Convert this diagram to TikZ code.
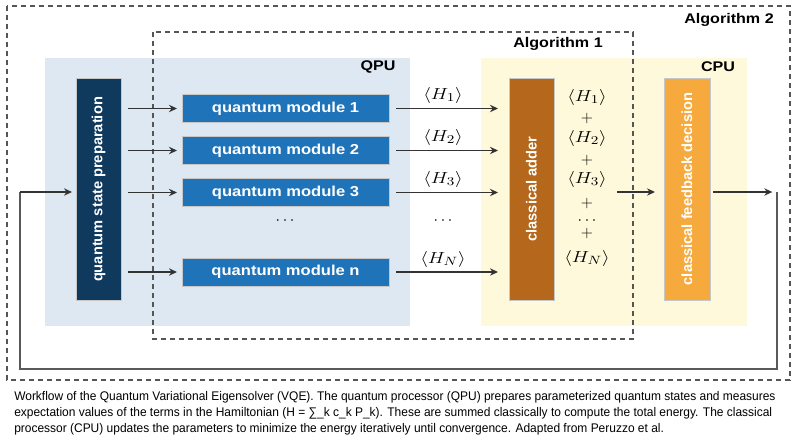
\documentclass[tikz,border=0pt]{standalone}
\usepackage{fontspec}
\usepackage{graphicx}
\usetikzlibrary{arrows.meta}
\newfontfamily\diafont[FakeStretch=1.15]{Liberation Sans}
\newfontfamily\rotfont{Liberation Sans}
\newfontfamily\capfont[FakeStretch=0.955]{Liberation Sans}
\definecolor{prepc}{HTML}{0F3A5E}
\definecolor{modc}{HTML}{1F73B8}
\definecolor{addc}{HTML}{B5671B}
\definecolor{cpuc}{HTML}{F6AA3E}
\definecolor{qpubg}{HTML}{DDE8F3}
\definecolor{cpubg}{HTML}{FDF9DA}
\definecolor{dashc}{HTML}{555555}
\begin{document}
\begin{tikzpicture}[x=0.75pt,y=-0.75pt,
  box/.style={draw=black!22, line width=0.7pt, inner sep=0pt, outer sep=0pt, text=white},
  vbox/.style={box, minimum width=33.75pt, minimum height=166.5pt},
  mod/.style={box, fill=modc, minimum width=155.25pt, minimum height=21pt,
    font=\diafont\bfseries\fontsize{10.8}{12}\selectfont},
  vtext/.style={rotate=90, text=white, inner sep=0pt, font=\rotfont\bfseries\fontsize{11}{12}\selectfont},
  lab/.style={inner sep=0pt, font=\diafont\bfseries\fontsize{10.5}{12}\selectfont},
  hlab/.style={inner sep=0pt, font=\fontsize{13}{15}\selectfont},
  dbox/.style={draw=dashc, line width=1.3pt, dash pattern=on 3.75pt off 3pt},
  arr/.style={draw=black!80, line width=1.45pt, -{Stealth[length=6pt,width=5.5pt]}},
  loopline/.style={draw=black!65, line width=2.1pt},
  captext/.style={inner sep=0pt, align=left, font=\capfont\fontsize{9.4}{11.7}\selectfont}
]
\useasboundingbox (0,0) rectangle (800,439);
% background regions
\fill[qpubg] (45,58) rectangle (410,326);
\fill[cpubg] (481,58) rectangle (747,326);
% dashed algorithm boxes
\draw[dbox] (7,6) rectangle (790,380);
\draw[dbox] (153,32) rectangle (633,339);
% region labels
\node[lab] (qpulab) at (378,67) {QPU};
\node[lab] (cpulab) at (718,67) {CPU};
\node[lab] (alg1) at (558,44) {Algorithm 1};
\node[lab] (alg2) at (729,20) {Algorithm 2};
% main boxes
\node[vbox, fill=prepc] (prep) at (98.5,189.5) {};
\node[vtext] (preptext) at (prep) {quantum state preparation};
\node[vbox, fill=addc] (adder) at (531.5,189) {};
\node[vtext] (addtext) at (adder) {classical adder};
\node[vbox, fill=cpuc, minimum width=34.5pt] (cpu) at (687,189) {};
\node[vtext] (cputext) at (cpu) {classical feedback decision};
% quantum modules
\node[mod] (m1) at (285.5,108.5) {quantum module 1};
\node[mod] (m2) at (285.5,150.5) {quantum module 2};
\node[mod] (m3) at (285.5,192.5) {quantum module 3};
\node[mod] (mn) at (285.5,272) {quantum module n};
\node[hlab] (mdots) at (285,221) {$\cdots$};
% expectation labels
\node[hlab] (h1) at (443,95.5) {\scalebox{1.22}[1]{$\langle H_1\rangle$}};
\node[hlab] (h2) at (443,137.5) {\scalebox{1.22}[1]{$\langle H_2\rangle$}};
\node[hlab] (h3) at (443,179.5) {\scalebox{1.22}[1]{$\langle H_3\rangle$}};
\node[hlab] (hdots) at (443,221) {$\cdots$};
\node[hlab] (hn) at (443,259) {\scalebox{1.22}[1]{$\langle H_N\rangle$}};
% sum column
\node[hlab] (s1) at (587,97) {\scalebox{1.22}[1]{$\langle H_1\rangle$}};
\node[hlab] (s2) at (587,118) {$+$};
\node[hlab] (s3) at (587,138) {\scalebox{1.22}[1]{$\langle H_2\rangle$}};
\node[hlab] (s4) at (587,160) {$+$};
\node[hlab] (s5) at (587,179) {\scalebox{1.22}[1]{$\langle H_3\rangle$}};
\node[hlab] (s6) at (587,203) {$+$};
\node[hlab] (s7) at (587,221) {$\cdots$};
\node[hlab] (s8) at (587,233) {$+$};
\node[hlab] (s9) at (587,258) {\scalebox{1.22}[1]{$\langle H_N\rangle$}};
% arrows prep -> modules
\foreach \m in {m1,m2,m3,mn}{
  \draw[arr, shorten <=5.25pt, shorten >=3.75pt] (prep.east |- \m.west) -- (\m.west);
  \draw[arr, shorten <=5.25pt, shorten >=8.25pt] (\m.east) -- (adder.west |- \m.east);
}
% adder -> cpu -> loop
\coordinate (aout) at (617,192);
\coordinate (rt) at (777,192);
\coordinate (rb) at (777,369);
\coordinate (lb) at (20,369);
\coordinate (lt) at (20,192);
\draw[arr, shorten >=6.75pt] (aout) -- (cpu.west |- aout);
\draw[arr, shorten <=2.25pt, shorten >=3.5pt] (cpu.east |- rt) -- (rt);
\draw[loopline, line join=miter] (rt) -- (rb) -- (lb) -- (lt);
\draw[arr, shorten >=3pt] (lt) -- (prep.west |- lt);
% caption
\node[captext, anchor=north west] (caption) at (14,391.5) {Workflow of the Quantum Variational Eigensolver (VQE). The quantum processor (QPU) prepares parameterized quantum states and measures\\expectation values of the terms in the Hamiltonian (H = ∑\_k c\_k P\_k). These are summed classically to compute the total energy. The classical\\processor (CPU) updates the parameters to minimize the energy iteratively until convergence. Adapted from Peruzzo et al.};
\end{tikzpicture}
\end{document}
